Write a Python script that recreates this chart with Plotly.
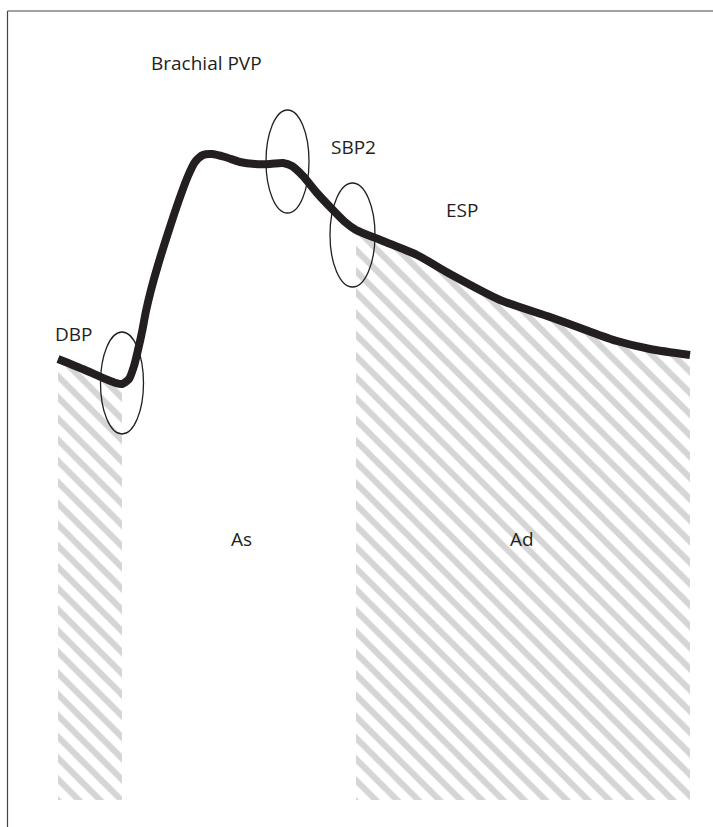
import numpy as np
import plotly.graph_objects as go

# Pulse-volume waveform (time units, pressure units; baseline = 0)
time = [58, 85, 108, 116, 122, 129, 134, 138, 142, 146, 151, 158, 168, 179, 188, 195, 203, 212,
        225, 240, 255, 270, 283, 292, 303, 317, 333, 345, 356, 383, 417, 450, 500, 550, 583,
        617, 650, 690]
pressure_px = [359, 370, 380, 383, 384, 379, 366, 350, 332, 311, 290, 265, 233, 200, 176, 162, 155, 154,
               157, 162, 164, 164, 163, 166, 176, 193, 210, 222, 230, 241, 255, 274, 300, 317, 329,
               341, 349, 355]
BASE = 800
pressure = [BASE - p for p in pressure_px]

# Hatched areas (systolic start and diastolic area) as time bounds
as_bounds = (58, 122)
ad_bounds = (356, 690)

# Marked points (centre time, centre pressure, half-width, half-height)
markers = {
    "DBP": (122, BASE - 383, 21.5, 51),
    "SBP2": (287.5, BASE - 161.5, 21.5, 51.5),
    "ESP": (352.5, BASE - 235, 22.5, 52),
}

labels = ["Brachial PVP", "SBP2", "ESP", "DBP", "As", "Ad"]
label_x = [206, 353, 462, 74, 241, 522]
label_y = [BASE - 63, BASE - 147, BASE - 210, BASE - 334, BASE - 539, BASE - 539]

ink = "#231f20"

fig = go.Figure()

t = np.array(time)
pr = np.array(pressure)
for lo, hi in (as_bounds, ad_bounds):
    m = (t >= lo) & (t <= hi)
    fig.add_trace(go.Scatter(
        x=t[m], y=pr[m], mode="lines", line=dict(width=0, shape="spline", smoothing=0.7),
        fill="tozeroy", fillcolor="rgba(0,0,0,0)",
        fillpattern=dict(shape="\\", fgcolor="#ababab", bgcolor="rgba(255,255,255,0)",
                         size=15, solidity=0.42, fillmode="overlay"),
        hoverinfo="skip", showlegend=False))

fig.add_trace(go.Scatter(
    x=time, y=pressure, mode="lines",
    line=dict(color=ink, width=8, shape="spline", smoothing=0.7),
    showlegend=False, hoverinfo="skip"))

for name, (cx, cy, rx, ry) in markers.items():
    fig.add_shape(type="circle", xref="x", yref="y",
                  x0=cx - rx, x1=cx + rx, y0=cy - ry, y1=cy + ry,
                  line=dict(color=ink, width=1.3))

for txt, x, y in zip(labels, label_x, label_y):
    fig.add_annotation(x=x, y=y, text=txt, showarrow=False, xanchor="center", yanchor="middle",
                       font=dict(family="Open Sans", size=19, color=ink))

# frame lines (top and left)
fig.add_shape(type="line", xref="paper", yref="paper", x0=7.5 / 713, x1=1, y0=1 - 11 / 827, y1=1 - 11 / 827,
              line=dict(color="#444444", width=1.2))
fig.add_shape(type="line", xref="paper", yref="paper", x0=7.5 / 713, x1=7.5 / 713, y0=0, y1=1 - 11 / 827,
              line=dict(color="#444444", width=1.2))

fig.update_layout(
    width=713, height=827, margin=dict(l=0, r=0, t=0, b=0),
    paper_bgcolor="white", plot_bgcolor="white",
    xaxis=dict(range=[0, 713], visible=False, fixedrange=True),
    yaxis=dict(range=[BASE - 827, BASE], visible=False, fixedrange=True),
    showlegend=False,
)

fig.write_html("out.html", config={"displayModeBar": False},
               post_script="document.body.style.margin='0px';document.body.style.overflow='hidden';")
